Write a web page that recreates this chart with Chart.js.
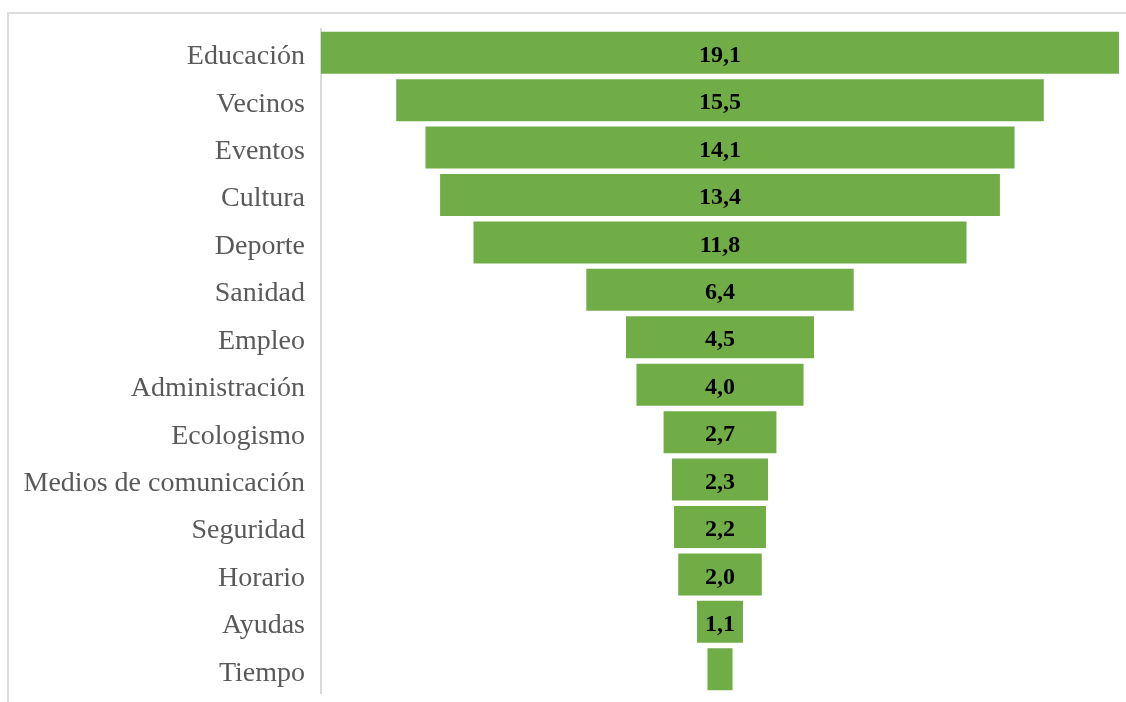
<!DOCTYPE html>
<html>
<head>
<meta charset="utf-8">
<script src="https://cdn.jsdelivr.net/npm/chart.js@4/dist/chart.umd.min.js"></script>
<style>
  html, body { margin: 0; padding: 0; background: #fff; overflow: hidden; }
  #wrap { position: relative; width: 1126px; height: 702px; }
  #frame { position: absolute; left: 7px; top: 12px; width: 1140px; height: 720px;
           border: 2px solid #dcdcdc; box-sizing: border-box; pointer-events: none; }
  canvas { position: absolute; left: 0; top: 0; }
</style>
</head>
<body>
<div id="wrap">
  <div id="frame"></div>
  <canvas id="chart" width="1126" height="702"></canvas>
</div>
<script>
// Temas mencionados (%), ordenados de mayor a menor
const categories = [
  'Educación', 'Vecinos', 'Eventos', 'Cultura', 'Deporte', 'Sanidad', 'Empleo',
  'Administración', 'Ecologismo', 'Medios de comunicación', 'Seguridad',
  'Horario', 'Ayudas', 'Tiempo'
];
const values = [19.1, 15.5, 14.1, 13.4, 11.8, 6.4, 4.5, 4.0, 2.7, 2.3, 2.2, 2.0, 1.1, 0.6];

const maxValue = Math.max(...values);
// Each bar is centred on zero to form the funnel
const funnelData = values.map(v => [-v / 2, v / 2]);

const fmt = v => v.toFixed(1).replace('.', ',');

const valueLabels = {
  id: 'valueLabels',
  afterDatasetsDraw(chart) {
    const ctx = chart.ctx;
    const meta = chart.getDatasetMeta(0);
    ctx.save();
    ctx.font = 'bold 24px "Liberation Serif", "Times New Roman", serif';
    ctx.fillStyle = '#000';
    ctx.textAlign = 'center';
    ctx.textBaseline = 'middle';
    meta.data.forEach((bar, i) => {
      const text = fmt(values[i]);
      const w = Math.abs(bar.x - bar.base);
      if (ctx.measureText(text).width + 2 > w) return;
      ctx.fillText(text, (bar.x + bar.base) / 2, bar.y + 3);
    });
    ctx.restore();
  }
};

new Chart(document.getElementById('chart'), {
  type: 'bar',
  data: {
    labels: categories,
    datasets: [{
      data: funnelData,
      backgroundColor: '#70ad47',
      borderWidth: 0,
      barPercentage: 0.885,
      categoryPercentage: 1.0
    }]
  },
  options: {
    indexAxis: 'y',
    responsive: false,
    animation: false,
    layout: { padding: { left: 0, right: 7, top: 29, bottom: 9 } },
    plugins: { legend: { display: false }, tooltip: { enabled: false } },
    scales: {
      x: {
        display: false,
        min: -maxValue / 2,
        max: maxValue / 2
      },
      y: {
        grid: { display: false, drawTicks: false },
        border: { display: true, color: '#d9d9d9', width: 2 },
        ticks: {
          color: '#595959',
          padding: 16,
          labelOffset: 4,
          font: { family: '"Liberation Serif", "Times New Roman", serif', size: 28 }
        },
        afterFit(scale) {
          scale.width = 321;
          scale.paddingTop = 0;
          scale.paddingBottom = 0;
        }
      }
    }
  },
  plugins: [valueLabels]
});
</script>
</body>
</html>
